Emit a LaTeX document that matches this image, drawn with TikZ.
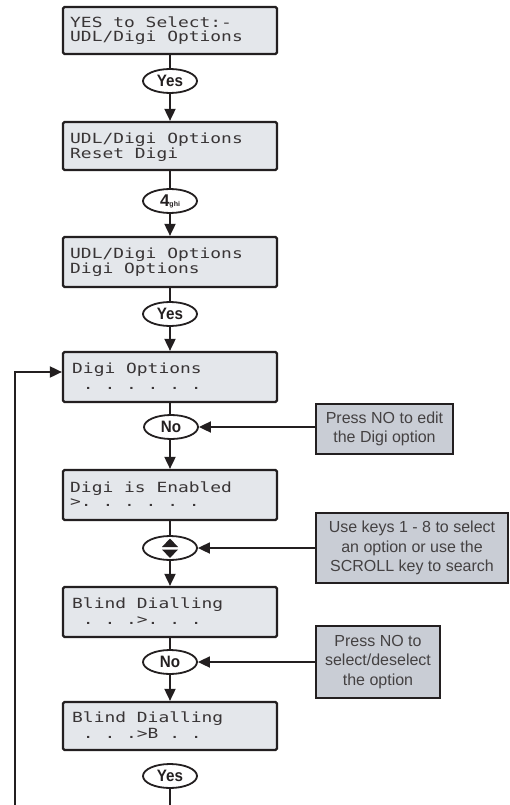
\documentclass[tikz,border=0pt]{standalone}
\usepackage{fontspec}
\setmainfont{Liberation Sans}
\newfontfamily\lcdfont{DejaVu Sans Mono}
\usepackage{graphicx}
\usetikzlibrary{shapes.geometric,arrows.meta}
\definecolor{lcdfill}{HTML}{E4E7EB}
\definecolor{notefill}{HTML}{C9CDD5}
\definecolor{ink}{HTML}{231F20}
\newcommand\lcdtxt[1]{\scalebox{1.28}[1]{\lcdfont\fontsize{14}{14}\selectfont #1}}
\newcommand\keytxt[1]{\scalebox{0.92}[1]{#1}}
\begin{document}
\begin{tikzpicture}[x=1pt,y=-1pt,
 lcd/.style={draw=ink, line width=2.2pt, fill=lcdfill, rounded corners=1.5pt, minimum width=214pt, minimum height=48pt, inner sep=0pt},
 lcdline/.style={anchor=base west, inner sep=0pt, text=ink!90},
 key/.style={draw=ink, ellipse, line width=1.8pt, fill=white, minimum width=54pt, minimum height=24pt, inner sep=0pt, font=\fontsize{16.5}{16.5}\selectfont\bfseries, text=ink},
 note/.style={draw=ink, line width=2.2pt, fill=notefill, inner sep=0pt, align=center, font=\fontsize{16}{19.5}\selectfont, text=ink!85},
 conn/.style={draw=ink, line width=1.8pt},
 arr/.style={conn, -{Triangle[length=12pt,width=11pt]}},
]
\useasboundingbox (0,0) rectangle (509,805);

% LCD boxes
\node[lcd, minimum height=47pt] (b1) at (170,30.5) {};
\node[lcd] (b2) at (170,146) {};
\node[lcd, minimum height=50pt] (b3) at (170,262) {};
\node[lcd, minimum height=50pt] (b4) at (170,377) {};
\node[lcd, minimum height=50pt] (b5) at (170,495) {};
\node[lcd, minimum height=50pt] (b6) at (170,612) {};
\node[lcd] (b7) at (170,726) {};

% LCD text
\node[lcdline] (t1a) at (70,28) {\lcdtxt{YES to Select:-}};
\node[lcdline] (t1b) at (70,42) {\lcdtxt{UDL/Digi Options}};
\node[lcdline] (t2a) at (70,144) {\lcdtxt{UDL/Digi Options}};
\node[lcdline] (t2b) at (70,159) {\lcdtxt{Reset Digi}};
\node[lcdline] (t3a) at (70,258) {\lcdtxt{UDL/Digi Options}};
\node[lcdline] (t3b) at (70,273) {\lcdtxt{Digi Options}};
\node[lcdline] (t4a) at (72,373) {\lcdtxt{Digi Options}};
\node[lcdline] (t4b) at (72,389) {\lcdtxt{~.~.~.~.~.~.}};
\node[lcdline] (t5a) at (70,492) {\lcdtxt{Digi is Enabled}};
\node[lcdline] (t5b) at (70,506) {\lcdtxt{>.~.~.~.~.~.}};
\node[lcdline] (t6a) at (72,608) {\lcdtxt{Blind Dialling}};
\node[lcdline] (t6b) at (72,624) {\lcdtxt{~.~.~.>.~.~.}};
\node[lcdline] (t7a) at (72,722) {\lcdtxt{Blind Dialling}};
\node[lcdline] (t7b) at (72,738) {\lcdtxt{~.~.~.>B~.~.}};

% keys
\node[key] (k1) at (170,81) {\keytxt{Yes}};
\node[key] (k2) at (170,201) {{\fontsize{17}{17}\selectfont\bfseries 4}{\fontsize{7}{7}\selectfont\bfseries ghi}};
\node[key] (k3) at (170,314) {\keytxt{Yes}};
\node[key] (k4) at (171,427) {\keytxt{No}};
\node[key] (k5) at (170,548) {};
\node[key] (k6) at (170,662) {\keytxt{No}};
\node[key] (k7) at (170,776) {\keytxt{Yes}};

% scroll symbol
\fill[ink, shift={(k5.center)}] (-8,-1) -- (8,-1) -- (0,-9.5) -- cycle;
\fill[ink, shift={(k5.center)}] (-8,1.5) -- (8,1.5) -- (0,10) -- cycle;

% notes
\node[note, minimum width=137pt, minimum height=50pt] (n1) at (384.5,429) {Press NO to edit\\the Digi option};
\node[note, minimum width=192pt, minimum height=70pt] (n2) at (412,548) {Use keys 1 - 8 to select\\an option or use the\\SCROLL key to search};
\node[note, minimum width=124pt, minimum height=72pt] (n3) at (378,662) {Press NO to\\select/deselect\\the option};

% connectors
\draw[conn] (b1.south) -- (k1.north);
\draw[arr] (k1.south) -- (b2.north);
\draw[conn] (b2.south) -- (k2.north);
\draw[arr] (k2.south) -- (b3.north);
\draw[conn] (b3.south) -- (k3.north);
\draw[arr] (k3.south) -- (b4.north);
\draw[conn] (b4.south) -- (b4.south |- k4.north);
\draw[arr] (b4.south |- k4.south) -- (b5.north);
\draw[conn] (b5.south) -- (k5.north);
\draw[arr] (k5.south) -- (b6.north);
\draw[conn] (b6.south) -- (k6.north);
\draw[arr] (k6.south) -- (b7.north);
\coordinate (bot) at (170,805);
\draw[conn] (k7.south) -- (bot);

% feedback loop
\coordinate (fb) at (15,805);
\draw[arr] (fb) |- ([yshift=5pt]b4.west);

% note arrows
\draw[arr] (n1.west |- k4.east) -- (k4.east);
\draw[arr] (n2.west |- k5.east) -- (k5.east);
\draw[arr] (n3.west |- k6.east) -- (k6.east);
\end{tikzpicture}
\end{document}
